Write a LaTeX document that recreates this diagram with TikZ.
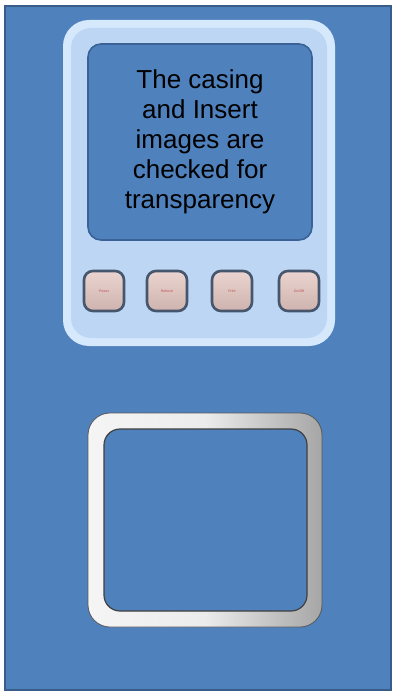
\documentclass[tikz,border=0pt]{standalone}
\usepackage{fontspec}
\setmainfont{Liberation Sans}
\definecolor{bgblue}{HTML}{4F81BD}
\definecolor{edgeblue}{HTML}{385D8A}
\definecolor{panelout}{HTML}{D6E8FC}
\definecolor{panelin}{HTML}{BCD6F4}
\definecolor{screenedge}{HTML}{3B6296}
\definecolor{btnedge}{HTML}{46566C}
\definecolor{btnfill}{HTML}{E2C2BC}
\definecolor{btntext}{HTML}{C0504D}
\tikzset{
  btn/.style={draw=btnedge, line width=2.6pt, rounded corners=9pt, minimum width=40pt, minimum height=40pt,
    inner sep=0pt, top color=btnfill!70!white, bottom color=btnfill!90!black!95, font=\fontsize{3.5}{4}\selectfont, text=btntext},
  screentext/.style={font=\fontsize{26}{30}\selectfont, align=center, text=black}
}
\begin{document}
\begin{tikzpicture}[x=1pt,y=-1pt]
\useasboundingbox (0,0) rectangle (393,692);
\fill[white] (0,0) rectangle (393,692);
% outer background
\node[draw=edgeblue, line width=2pt, fill=bgblue, minimum width=386pt, minimum height=684pt, inner sep=0pt] (bg) at (198,348) {};
% panel
\node[fill=panelout, rounded corners=26pt, minimum width=272pt, minimum height=326pt, inner sep=0pt] (panel) at (199,183) {};
\node[fill=panelin, rounded corners=20pt, minimum width=256pt, minimum height=310pt, inner sep=0pt] (panelinner) at (199,183) {};
% screen
\node[draw=screenedge, line width=1.6pt, fill=bgblue, rounded corners=13pt, minimum width=224pt, minimum height=196pt, inner sep=0pt] (screen) at (200,142) {};
\node[screentext] (txt) at (200,142) {The casing\\and Insert\\images are\\checked for\\transparency};
% buttons
\node[btn] (b1) at (104,291) {Power};
\node[btn] (b2) at (167,291) {Refresh};
\node[btn] (b3) at (232,291) {Print};
\node[btn] (b4) at (299,291) {On/Off};
% silver frame
\shade[left color=white!92!gray, right color=gray!70, middle color=gray!15, even odd rule]
  [rounded corners=22pt] (88,413) rectangle (322,627)
  [rounded corners=16pt] (104,429) rectangle (307,611);
\draw[gray!70!black, line width=0.8pt, rounded corners=22pt] (88,413) rectangle (322,627);
\node[draw=gray!50!black, line width=1.2pt, fill=bgblue, rounded corners=16pt, minimum width=203pt, minimum height=182pt, inner sep=0pt] (frameinner) at (205.5,520) {};
\end{tikzpicture}
\end{document}
